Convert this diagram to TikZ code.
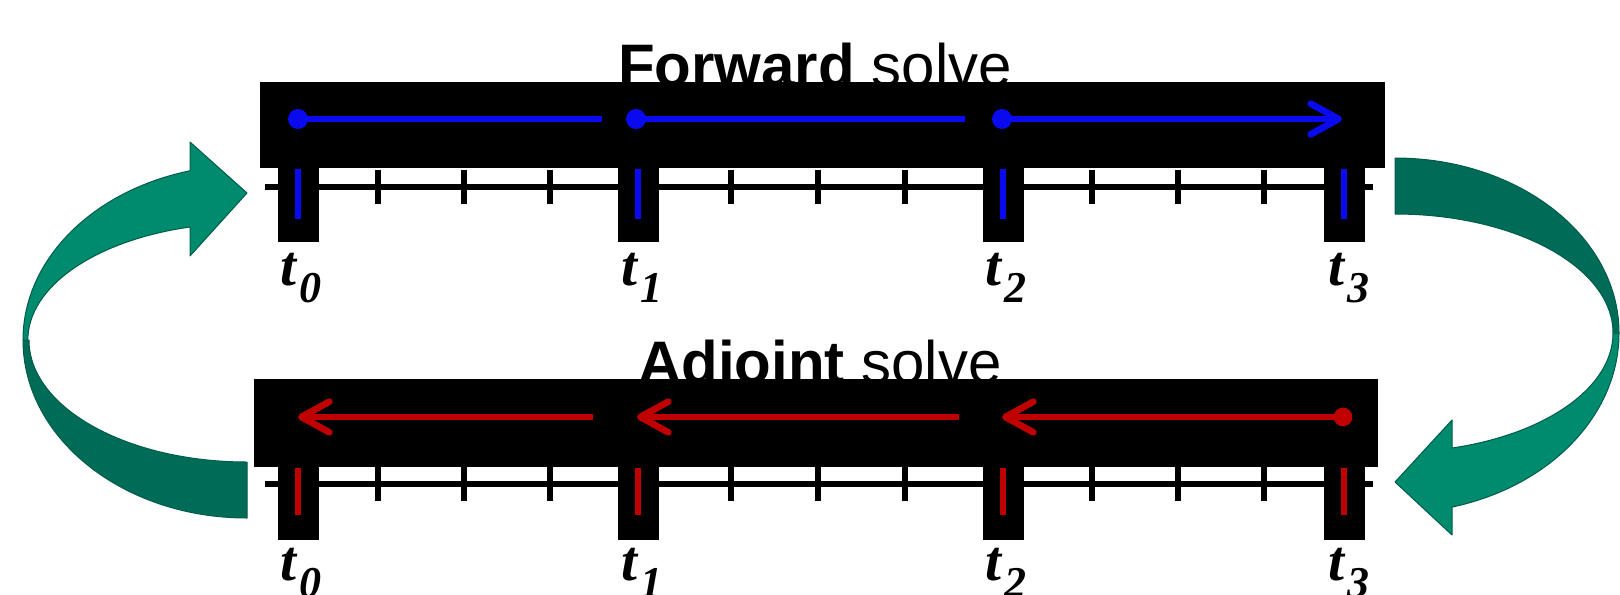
\documentclass[tikz,border=0pt]{standalone}
\usepackage{fontspec}
\usepackage{tikz}
\usetikzlibrary{arrows.meta}

\newfontfamily\headfont{Liberation Sans}
\newfontfamily\labelfont{Liberation Serif}

\definecolor{fwdblue}{RGB}{10,10,240}
\definecolor{adjred}{RGB}{192,0,0}
\definecolor{ribbonfront}{RGB}{0,138,110}
\definecolor{ribbonback}{RGB}{0,108,88}
\definecolor{ribbonedge}{RGB}{0,92,74}

\newcommand{\tsub}[1]{\hspace{2.5pt}\raisebox{-13pt}{\fontsize{33}{33}\selectfont #1}}

\tikzset{
  band/.style={fill=black},
  pillar/.style={fill=black},
  axisline/.style={line width=4pt},
  tickmark/.style={line width=4.3pt},
  fwdline/.style={draw=fwdblue,line width=5pt},
  adjline/.style={draw=adjred,line width=5pt},
  solvetip/.style={-{Straight Barb[length=21pt,width=23pt,round]}},
  ribbonfill/.style={draw=ribbonedge,line width=0.75pt,line join=round,fill=ribbonfront},
  ribbonshade/.style={draw=ribbonedge,line width=0.75pt,line join=round,fill=ribbonback},
  headtext/.style={inner sep=0pt,anchor=base,font=\headfont\fontsize{45}{45}\selectfont},
  tlabel/.style={inner sep=0pt,anchor=base west,font=\labelfont\bfseries\itshape\fontsize{43}{43}\selectfont}
}

\begin{document}
\begin{tikzpicture}[x=0.75pt,y=0.75pt,yscale=-1,xscale=1]
%set diagram left start at 0, and has height of 594
\useasboundingbox (0,0) rectangle (1620,594);

% Text Node
\draw (815,86) node (fwdhead) [headtext] {\textbf{Forward} solve};
% Text Node
\draw (820,383) node (adjhead) [headtext] {\textbf{Adjoint} solve};

% Shape: Rectangle
\fill [band] (260,82) rectangle (1385,168);
% Shape: Rectangle
\fill [band] (254,379) rectangle (1378,467);

% Time axis (forward)
\draw [axisline] (265,187) -- (1373,187);
\draw [tickmark] (378,170) -- (378,204);
\draw [tickmark] (464,170) -- (464,204);
\draw [tickmark] (550,170) -- (550,204);
\draw [tickmark] (731,170) -- (731,204);
\draw [tickmark] (818,170) -- (818,204);
\draw [tickmark] (905,170) -- (905,204);
\draw [tickmark] (1092,170) -- (1092,204);
\draw [tickmark] (1178,170) -- (1178,204);
\draw [tickmark] (1264,170) -- (1264,204);
% Time axis (adjoint)
\draw [axisline] (265,484) -- (1373,484);
\draw [tickmark] (378,467) -- (378,501);
\draw [tickmark] (464,467) -- (464,501);
\draw [tickmark] (550,467) -- (550,501);
\draw [tickmark] (731,467) -- (731,501);
\draw [tickmark] (818,467) -- (818,501);
\draw [tickmark] (905,467) -- (905,501);
\draw [tickmark] (1092,467) -- (1092,501);
\draw [tickmark] (1178,467) -- (1178,501);
\draw [tickmark] (1264,467) -- (1264,501);

% Shape: Rectangle
\fill [pillar] (277.5,160) rectangle (318.5,242);
\fill [pillar] (617.5,160) rectangle (658.5,242);
\fill [pillar] (982.5,160) rectangle (1023.5,242);
\fill [pillar] (1323.5,160) rectangle (1364.5,242);
% Shape: Rectangle
\fill [pillar] (277.5,460) rectangle (318.5,540);
\fill [pillar] (617.5,460) rectangle (658.5,540);
\fill [pillar] (982.5,460) rectangle (1023.5,540);
\fill [pillar] (1323.5,460) rectangle (1364.5,540);

% Checkpoint marks
\draw [fwdline] (298,169) -- (298,219);
\draw [fwdline] (638,169) -- (638,219);
\draw [fwdline] (1003,169) -- (1003,219);
\draw [fwdline] (1344,169) -- (1344,219);
\draw [adjline] (298,468) -- (298,515);
\draw [adjline] (638,468) -- (638,515);
\draw [adjline] (1003,468) -- (1003,515);
\draw [adjline] (1344,468) -- (1344,515);

% Text Node
\draw (280,285) node (tf0) [tlabel] {t\tsub{0}};
\draw (621,285) node (tf1) [tlabel] {t\tsub{1}};
\draw (985,285) node (tf2) [tlabel] {t\tsub{2}};
\draw (1328,285) node (tf3) [tlabel] {t\tsub{3}};
% Text Node
\draw (280,580) node (ta0) [tlabel] {t\tsub{0}};
\draw (621,580) node (ta1) [tlabel] {t\tsub{1}};
\draw (985,580) node (ta2) [tlabel] {t\tsub{2}};
\draw (1328,580) node (ta3) [tlabel] {t\tsub{3}};

% Forward segments
\coordinate (f0) at (298,119);
\coordinate (f0e) at (602,119);
\coordinate (f1) at (636,119);
\coordinate (f1e) at (965,119);
\coordinate (f2) at (1002,119);
\coordinate (f3) at (1342,119);
% Connection
\draw [fwdline] (f0) -- (f0e);
\draw [fwdline] (f1) -- (f1e);
\draw [fwdline,solvetip] (f2) -- (f3);
\fill [fwdblue] (f0) circle [radius=7.5pt];
\fill [fwdblue] (f1) circle [radius=7.5pt];
\fill [fwdblue] (f2) circle [radius=7.5pt];

% Adjoint segments
\coordinate (a3) at (1343,417);
\coordinate (a2) at (1002,417);
\coordinate (a2s) at (959,417);
\coordinate (a1) at (637,417);
\coordinate (a1s) at (593,417);
\coordinate (a0) at (298,417);
% Connection
\draw [adjline,solvetip] (a3) -- (a2);
\draw [adjline,solvetip] (a2s) -- (a1);
\draw [adjline,solvetip] (a1s) -- (a0);
\fill [adjred] (a3) circle [radius=7pt];

% Shape: Curved Arrow (left, back)
\draw [ribbonshade] (23,340) arc [start angle=180, end angle=90, x radius=224, y radius=178] -- (247,462) arc [start angle=90, end angle=180, x radius=218, y radius=122] -- cycle;
% Shape: Curved Arrow (left, front)
\draw [ribbonfill] (23,340) arc [start angle=180, end angle=255.3, x radius=224, y radius=175] -- (190,142) -- (247,193) -- (190,256) -- (190,227) arc [start angle=255.16, end angle=180, x radius=218, y radius=117] -- cycle;

% Shape: Curved Arrow (right, back)
\draw [ribbonshade] (1395,158) arc [start angle=270, end angle=360, x radius=224, y radius=175] -- (1613,333) arc [start angle=0, end angle=-90, x radius=218, y radius=119] -- cycle;
% Shape: Curved Arrow (right, front)
\draw [ribbonfill] (1619,333) arc [start angle=0, end angle=75.26, x radius=224, y radius=180] -- (1452,535) -- (1395,482) -- (1452,420) -- (1452,448) arc [start angle=74.84, end angle=0, x radius=218, y radius=119] -- cycle;

\end{tikzpicture}
\end{document}
